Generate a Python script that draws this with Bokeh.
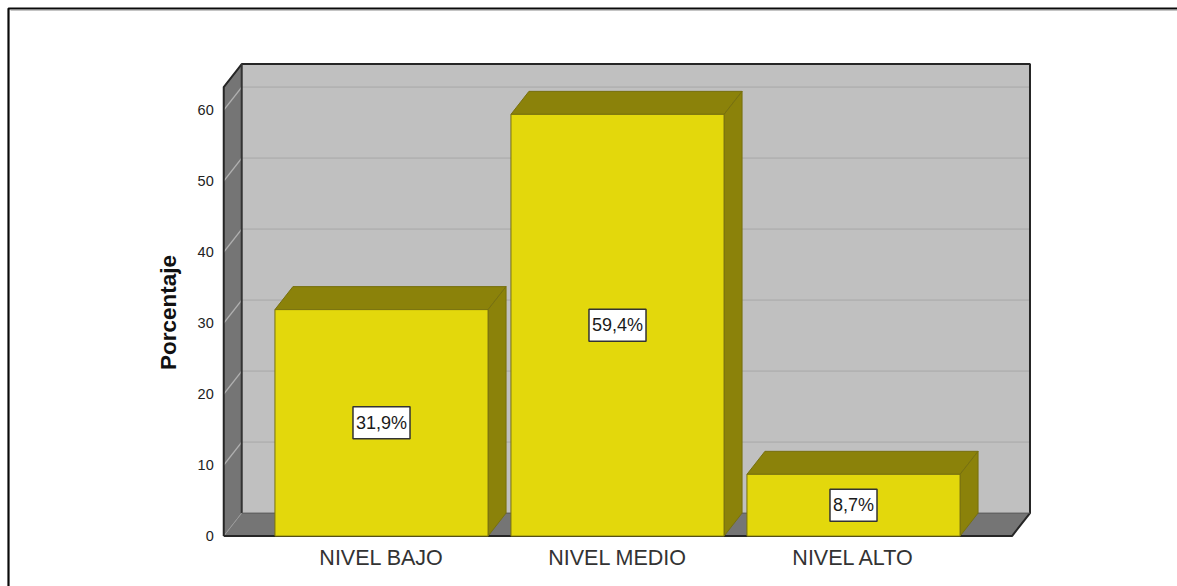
from math import pi

from bokeh.core.properties import value
from bokeh.embed import file_html
from bokeh.models import FixedTicker, LinearAxis, Range1d
from bokeh.plotting import figure
from bokeh.resources import INLINE

categories = ["NIVEL BAJO", "NIVEL MEDIO", "NIVEL ALTO"]
percentages = [31.9, 59.4, 8.7]
percent_labels = ["31,9%", "59,4%", "8,7%"]
y_ticks = [0, 10, 20, 30, 40, 50, 60]
y_axis_title = "Porcentaje"

# Canvas and scale: one category step spans 236 px, ten percent spans 71 px
WIDTH, HEIGHT = 1177, 586
PX_PER_CAT, PX_PER_PCT = 236.0, 7.1
ORIGIN_X, ORIGIN_Y = 381.0, 535.6

X0 = -ORIGIN_X / PX_PER_CAT
X1 = (WIDTH - ORIGIN_X) / PX_PER_CAT
Y0 = (ORIGIN_Y - HEIGHT) / PX_PER_PCT
Y1 = ORIGIN_Y / PX_PER_PCT

# Extrusion of the 3D box and bars, in data units
DX = 18.0 / PX_PER_CAT
DY = 23.0 / PX_PER_PCT
BAR_HALF = 0.4515
WALL_L, WALL_R, WALL_TOP = -0.6685, 2.6716, 63.25

WALL_BACK, WALL_SIDE = "#c0c0c0", "#757575"
GRID_BACK, GRID_SIDE = "#b2b2b2", "#b0b0b0"
BAR_FRONT, BAR_SHADE, BAR_EDGE = "#e3d80c", "#8b820a", "#77700f"
DARK = "#262626"

p = figure(
    width=WIDTH, height=HEIGHT, output_backend="svg", toolbar_location=None,
    x_range=Range1d(X0, X1), y_range=Range1d(Y0, Y1),
    x_axis_type=None, y_axis_type=None, min_border=0,
    outline_line_color=None, background_fill_color="white",
)
p.grid.visible = False

# Outer picture rule along the top and left edges
rule_y = Y1 - 8 / PX_PER_PCT
rule_x = X0 + 8 / PX_PER_CAT
p.line([rule_x, rule_x, X1], [Y0, rule_y, rule_y], line_color="#0a0a0a", line_width=2.2)
p.line([rule_x + 2 / PX_PER_CAT, X1], [rule_y - 2 / PX_PER_PCT] * 2, line_color="#c4c4c4", line_width=1)

# Walls and floor of the box
p.patch([WALL_L, WALL_L + DX, WALL_L + DX, WALL_L], [0, DY, WALL_TOP + DY, WALL_TOP],
        fill_color=WALL_SIDE, line_color=None)
p.patch([WALL_L + DX, WALL_R + DX, WALL_R + DX, WALL_L + DX],
        [DY, DY, WALL_TOP + DY, WALL_TOP + DY], fill_color=WALL_BACK, line_color=None)
p.patch([WALL_L, WALL_R, WALL_R + DX, WALL_L + DX], [0, 0, DY, DY],
        fill_color=WALL_SIDE, line_color=None)

# Gridlines run along the side wall and across the back wall
for t in y_ticks[1:]:
    p.line([WALL_L, WALL_L + DX], [t, t + DY], line_color=GRID_SIDE, line_width=1.4)
    p.line([WALL_L + DX, WALL_R + DX], [t + DY, t + DY], line_color=GRID_BACK, line_width=1.6)
p.line([WALL_L, WALL_L + DX], [0, DY], line_color="#9a9a9a", line_width=1)

# Box edges
p.line([WALL_L, WALL_L, WALL_L + DX, WALL_R + DX, WALL_R + DX, WALL_R, WALL_L],
       [0, WALL_TOP, WALL_TOP + DY, WALL_TOP + DY, DY, 0, 0],
       line_color=DARK, line_width=2)
p.line([WALL_L + DX, WALL_L + DX], [DY, WALL_TOP + DY], line_color="#333333", line_width=2)
p.line([WALL_L + DX, WALL_R + DX], [DY, DY], line_color="#5a5a5a", line_width=1)

# Extruded bars: top and side faces first, then the front
for i, v in enumerate(percentages):
    l, r = i - BAR_HALF, i + BAR_HALF
    p.patch([l, r, r + DX, l + DX], [v, v, v + DY, v + DY],
            fill_color=BAR_SHADE, line_color=BAR_EDGE, line_width=1)
    p.patch([r, r + DX, r + DX, r], [0, DY, v + DY, v],
            fill_color=BAR_SHADE, line_color=BAR_EDGE, line_width=1)
p.vbar(x=list(range(len(categories))), top=percentages, bottom=0, width=2 * BAR_HALF,
       fill_color=BAR_FRONT, line_color=BAR_EDGE, line_width=1)

# Value labels in boxed tags at each bar's mid height
p.text(
    x=list(range(len(categories))), y=[v / 2 for v in percentages], text=percent_labels,
    text_align="center", text_baseline="middle", text_color="#1a1a1a",
    text_font=value("Liberation Sans"), text_font_size="18px",
    background_fill_color="white", border_line_color="#333333", border_line_width=1.5,
    padding=(3, 6),
)

# Axis title, rotated beside the value axis
p.text(
    x=[X0 + 168 / PX_PER_CAT], y=[(ORIGIN_Y - 312) / PX_PER_PCT], text=[y_axis_title], angle=pi / 2,
    text_align="center", text_baseline="middle", text_color="#111111",
    text_font=value("Liberation Sans"), text_font_style="bold", text_font_size="22.5px",
)

y_axis = LinearAxis(
    fixed_location=WALL_L, ticker=FixedTicker(ticks=y_ticks),
    axis_line_color=None, major_tick_line_color=None, minor_tick_line_color=None,
    major_label_standoff=4, major_label_text_font="Liberation Sans",
    major_label_text_font_size="14.5px", major_label_text_color="#222222",
)
p.add_layout(y_axis, "left")

x_axis = LinearAxis(
    fixed_location=0, ticker=FixedTicker(ticks=list(range(len(categories)))),
    major_label_overrides={i: c for i, c in enumerate(categories)},
    axis_line_color=None, major_tick_line_color=None, minor_tick_line_color=None,
    major_label_standoff=4, major_label_text_font="Liberation Sans",
    major_label_text_font_size="21.5px", major_label_text_color="#333333",
)
p.add_layout(x_axis, "below")

open("out.html", "w").write(file_html(p, INLINE))
